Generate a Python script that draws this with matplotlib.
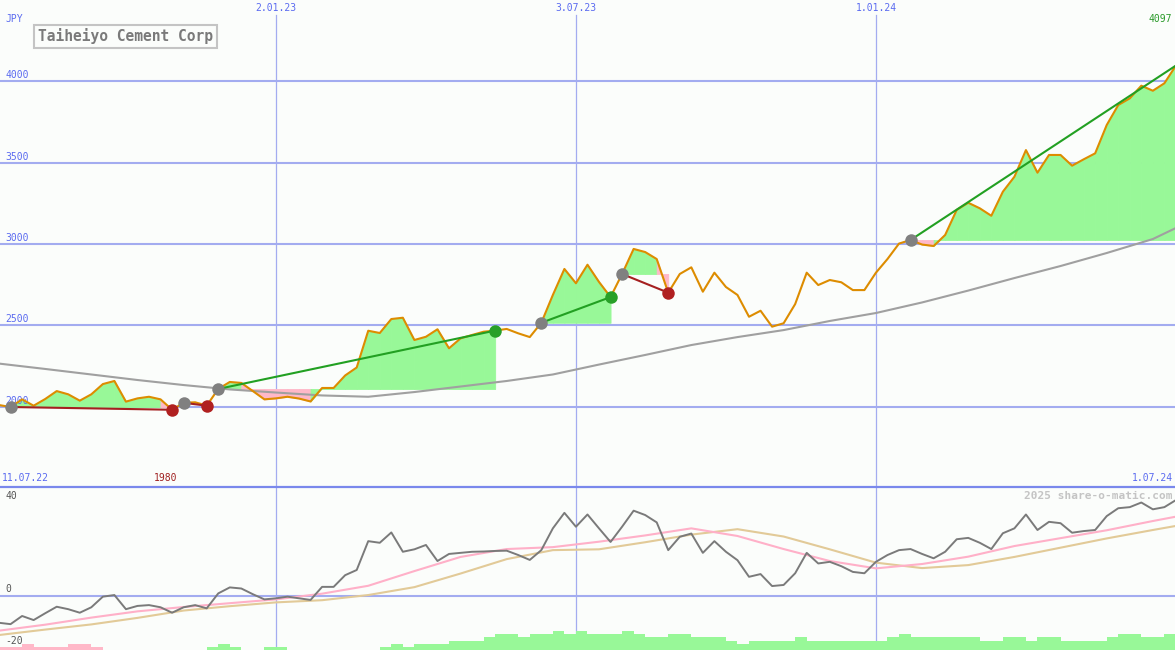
import numpy as np
import pandas as pd
import matplotlib
matplotlib.use('Agg')
import matplotlib.pyplot as plt
import matplotlib.dates as mdates
import matplotlib.transforms as mtransforms

plt.rcParams['font.family'] = ['DejaVu Sans Mono', 'DejaVu Sans']

# ---------------- data ----------------
title = 'Taiheiyo Cement Corp'
currency = 'JPY'
first_week = '2022-07-18'
n_weeks = 103

close = [2009, 1997, 2044, 2005, 2046, 2095, 2075, 2036, 2075, 2138,
         2157, 2030, 2050, 2060, 2044, 1980, 2023, 2026, 2005, 2108,
         2151, 2145, 2095, 2044, 2050, 2060, 2049, 2031, 2114, 2114,
         2191, 2240, 2466, 2452, 2538, 2546, 2409, 2429, 2475, 2358,
         2419, 2440, 2460, 2467, 2477, 2450, 2427, 2515, 2686, 2846,
         2758, 2872, 2766, 2673, 2815, 2969, 2950, 2907, 2700, 2815,
         2856, 2706, 2823, 2735, 2686, 2552, 2589, 2491, 2512, 2630,
         2823, 2747, 2778, 2764, 2716, 2716, 2823, 2907, 3002, 3024,
         2996, 2987, 3055, 3209, 3253, 3219, 3173, 3321, 3413, 3577,
         3438, 3547, 3547, 3481, 3520, 3557, 3731, 3854, 3895, 3973,
         3942, 3988, 4097]

# long moving average, sampled every 4 weeks (week indices)
ma_weeks = [0, 4, 8, 12, 16, 20, 24, 28, 32, 36, 40, 44, 48, 52, 56, 60,
            64, 68, 72, 76, 80, 84, 88, 92, 96, 100, 102]
ma_long = [2264, 2231, 2197, 2163, 2132, 2105, 2086, 2068, 2060, 2089,
           2123, 2157, 2197, 2258, 2317, 2378, 2427, 2470, 2526, 2575,
           2640, 2713, 2790, 2864, 2944, 3030, 3098]

# lower panel oscillator
osc = [-10.0, -10.5, -7.5, -9.0, -6.5, -4.1, -5.0, -6.3, -4.3, -0.4,
       0.2, -5.0, -3.8, -3.5, -4.3, -6.3, -4.3, -3.5, -4.7, 0.8,
       3.0, 2.6, 0.5, -1.4, -1.0, -0.4, -1.0, -1.6, 3.2, 3.2,
       7.5, 9.4, 20.0, 19.4, 23.2, 16.1, 17.0, 18.6, 12.7, 15.3,
       15.7, 16.1, 16.2, 16.4, 16.5, 14.9, 13.1, 16.7, 24.7, 30.4,
       25.3, 29.8, 24.7, 19.7, 25.3, 31.2, 29.6, 26.9, 16.7, 21.6,
       22.8, 15.7, 20.0, 16.1, 13.0, 6.9, 7.9, 3.5, 3.9, 8.2,
       15.7, 11.8, 12.4, 10.8, 8.7, 8.2, 12.4, 14.9, 16.7, 17.1,
       15.3, 13.7, 16.1, 20.7, 21.2, 19.4, 17.1, 22.9, 24.7, 29.8,
       24.1, 27.1, 26.6, 23.1, 23.7, 24.1, 29.2, 32.1, 32.5, 34.2,
       31.7, 32.5, 35.1]
osc_fast = [-12.9, -10.7, -8.1, -5.8, -4.2, -2.8, -1.4, 0.7, 3.6, 9.0,
            14.2, 17.1, 17.8, 19.8, 22.1, 24.7, 21.9, 17.1, 12.7, 10.0,
            11.6, 14.3, 18.2, 21.1, 24.0, 27.4, 29.0]
osc_slow = [-14.5, -12.5, -10.6, -8.2, -5.5, -3.9, -2.5, -1.7, 0.2, 3.1,
            8.1, 13.4, 16.7, 17.0, 19.6, 22.4, 24.4, 21.7, 17.0, 12.1,
            10.1, 11.2, 14.2, 17.6, 21.0, 24.1, 25.6]

# signal strength bars (negative = pink, positive = green)
signal = [-1, -1, -2, -1, -1, -1, -2, -2, -1,
          0, 0, 0, 0, 0, 0, 0, 0, 0,
          1, 2, 1, 0, 0, 1, 1,
          0, 0, 0, 0, 0, 0, 0, 0,
          1, 2, 1, 2, 2, 2, 3, 3, 3, 4, 5, 5, 4, 5, 5, 6, 5, 6, 5, 5, 5, 6,
          5, 4, 4, 5, 5, 4, 4, 4, 3, 2, 3, 3, 3, 3, 4, 3, 3, 3, 3, 3, 3, 3,
          4, 5, 4, 4, 4, 4, 4, 4, 3, 3, 4, 4, 3, 4, 4, 3, 3, 3, 3, 4, 5, 5,
          4, 4, 5, 5]

# trends
trend_start = [1, 16, 19, 47, 54, 79]
trend_end = [15, 18, 43, 53, 58, 102]
trend_up = [False, False, True, True, False, True]
trend_open = [False, False, False, False, False, True]

price_ticks = [2000, 2500, 3000, 3500, 4000]
date_ticks = ['2023-01-02', '2023-07-03', '2024-01-01']
date_labels = ['2.01.23', '3.07.23', '1.01.24']
low_label = '1980'
last_label = '4097'
osc_labels = ['40', '0', '-20']
watermark = '2025 share-o-matic.com'

# ---------------- styling ----------------
BG = '#FBFDFB'
GRID = '#A3ACF0'
BLUE_TXT = '#5A6AF0'
ORANGE = '#DD8C00'
GREEN_FILL = '#98F898'
PINK_FILL = '#FFB8C8'
UP_COL = '#22A022'
DOWN_COL = '#A52020'

W, H = 1175, 650
fig = plt.figure(figsize=(W / 100, H / 100), dpi=100, facecolor=BG)
main_h = 487
ax1 = fig.add_axes([0, (H - main_h) / H, 1, main_h / H], facecolor=BG)
ax2 = fig.add_axes([0, 0, 1, (H - main_h) / H], facecolor=BG)

dates = pd.date_range(first_week, periods=n_weeks, freq='7D')
xd = mdates.date2num(dates.to_pydatetime())
close_a = np.array(close, dtype=float)
ma_x = xd[ma_weeks]

px_per_day = 300 / 182.0
x_left = xd[0] + 0.6
x_right = x_left + W / px_per_day

for ax in (ax1, ax2):
    ax.set_xlim(x_left, x_right)
    ax.set_xticks([])
    ax.set_yticks([])
    for s in ax.spines.values():
        s.set_visible(False)

ax1.set_ylim(1505, 4500)
ax2.set_ylim(-20, 39.9)

tick_x = mdates.date2num(pd.to_datetime(date_ticks).to_pydatetime())

# grid
for v in price_ticks:
    ax1.axhline(v, color=GRID, lw=1.5, zorder=1)
for tx in tick_x:
    ax1.axvline(tx, ymin=0, ymax=1 - 15 / main_h, color=GRID, lw=0.9, zorder=1)
    ax2.axvline(tx, color=GRID, lw=0.9, zorder=1)
ax2.axhline(0, color=GRID, lw=1.5, zorder=1)
ax2.spines['top'].set_visible(True)
ax2.spines['top'].set_color('#7A88EC')
ax2.spines['top'].set_linewidth(1.6)

# trend fills
for s, e in zip(trend_start, trend_end):
    base = close_a[s]
    for k in range(s, e):
        col = GREEN_FILL if close_a[k + 1] >= base else PINK_FILL
        ax1.fill_between(xd[k:k + 2], close_a[k:k + 2], base, color=col,
                         lw=0.6, edgecolor=col, zorder=2)

# long MA and price
ax1.plot(ma_x, ma_long, color='#A0A0A0', lw=1.5, zorder=3)
ax1.plot(xd, close_a, color=ORANGE, lw=1.5, zorder=4)

# trend lines and markers
for s, e, up, op in zip(trend_start, trend_end, trend_up, trend_open):
    col = UP_COL if up else DOWN_COL
    ax1.plot([xd[s], xd[e]], [close_a[s], close_a[e]], color=col, lw=1.5, zorder=5)
    ax1.plot(xd[s], close_a[s], 'o', ms=9, color='#808080', mec='none', zorder=6)
    if not op:
        ax1.plot(xd[e], close_a[e], 'o', ms=9,
                 color=('#28A028' if up else '#B02020'), mec='none', zorder=6)

# lower panel
ax2.plot(ma_x, osc_slow, color='#E2CA98', lw=1.5, zorder=3)
ax2.plot(ma_x, osc_fast, color='#FFB0C8', lw=1.5, zorder=3)
ax2.plot(xd, osc, color='#7A7A7A', lw=1.4, zorder=4)

axb = ax2.twinx()
axb.set_xlim(x_left, x_right)
axb.set_ylim(0, 52)
axb.axis('off')
sig = np.array(signal)
bar_cols = [PINK_FILL if v < 0 else GREEN_FILL for v in sig]
axb.bar(xd, np.abs(sig), width=7, align='edge', color=bar_cols, lw=0, zorder=2)

# ---------------- text ----------------
def fx(x):
    return x / W

def fy(y):
    return 1 - y / H

small = dict(fontsize=7, family='DejaVu Sans Mono')
blend1 = mtransforms.blended_transform_factory(ax1.transData, ax1.transAxes)
for tx, lab in zip(tick_x, date_labels):
    ax1.text(tx, 1 - 8 / main_h, lab, color=BLUE_TXT, ha='center', va='center',
             transform=blend1, **small)

fig.text(fx(5), fy(19), currency, color=BLUE_TXT, ha='left', va='center', **small)

blend_y = mtransforms.blended_transform_factory(ax1.transAxes, ax1.transData)
lift = mtransforms.ScaledTranslation(0, 6 / 100, fig.dpi_scale_trans)
for v in price_ticks:
    ax1.text(5 / W, v, str(v), color=BLUE_TXT, ha='left', va='center',
             transform=blend_y + lift, **small)

fig.text(fx(1172), fy(19), last_label, color='#2A9A2A', ha='right', va='center', **small)
fig.text(fx(2), fy(478), '11.07.22', color=BLUE_TXT, ha='left', va='center', **small)
fig.text(fx(1173), fy(478), '1.07.24', color=BLUE_TXT, ha='right', va='center', **small)
low_i = int(np.argmin(close_a))
blend_low = mtransforms.blended_transform_factory(ax1.transData, fig.transFigure)
ax1.text(xd[low_i] - 4, fy(478), low_label, color='#A02020', ha='center', va='center',
         transform=blend_low, **small)

for lab, y in zip(osc_labels, [496, 589, 641]):
    fig.text(fx(5), fy(y), lab, color='#555555', ha='left', va='center', **small)

fig.text(fx(1172), fy(496), watermark, color='#C4C4C4', ha='right', va='center',
         fontsize=8, fontweight='bold', family='DejaVu Sans Mono')

fig.text(fx(38), fy(36.5), title, color='#7A7A7A', ha='left', va='center',
         fontsize=10.5, fontweight='bold', family='DejaVu Sans Mono',
         bbox=dict(boxstyle='square,pad=0.25', fc=BG, ec='#C4C4C4', lw=1.5))

fig.savefig('out.png', dpi=100, facecolor=BG)
